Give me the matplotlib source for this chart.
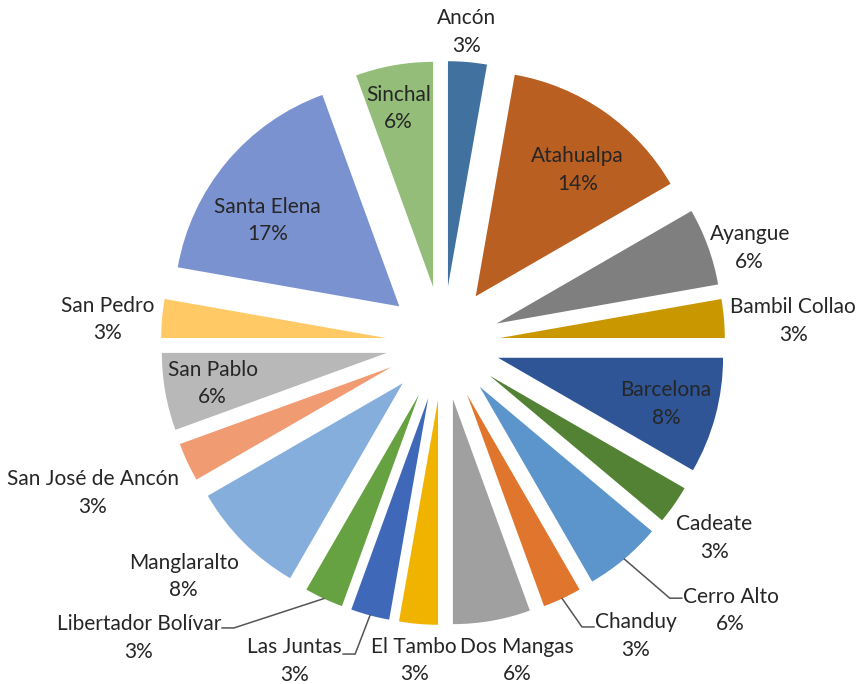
import numpy as np
import matplotlib
matplotlib.use("Agg")
import matplotlib.pyplot as plt

plt.rcParams['font.family'] = ['Lato', 'DejaVu Sans']

# data: counts per parish, shown as rounded percentages
parishes = ["Ancón", "Atahualpa", "Ayangue", "Bambil Collao", "Barcelona", "Cadeate",
            "Cerro Alto", "Chanduy", "Dos Mangas", "El Tambo", "Las Juntas",
            "Libertador Bolívar", "Manglaralto", "San José de Ancón", "San Pablo",
            "San Pedro", "Santa Elena", "Sinchal"]
counts = [1, 5, 2, 1, 3, 1, 2, 1, 2, 1, 1, 1, 3, 1, 2, 1, 6, 2]

colors = ["#41729F", "#BA5F22", "#7F7F7F", "#C99700", "#2F5597", "#548235",
          "#5B95CC", "#E0762E", "#A0A0A0", "#F0B400", "#3F69B8", "#67A242",
          "#85AEDC", "#F09B72", "#B8B8B8", "#FFC966", "#7B92D0", "#93BD79"]

# label placement: (angle in degrees, distance in px from pie centre)
label_pos = {
    "Ancón": (85.6, 312), "Atahualpa": (52.2, 219), "Ayangue": (17.2, 321),
    "Bambil Collao": (3.6, 351), "Barcelona": (-15.3, 231), "Cadeate": (-35.7, 334),
    "Dos Mangas": (-76.9, 326), "El Tambo": (-95.2, 319), "Manglaralto": (-138, 349),
    "San José de Ancón": (-156.8, 381), "San Pablo": (-170, 234), "San Pedro": (176, 336),
    "Santa Elena": (145, 214), "Sinchal": (100.8, 239),
}
# labels with leader lines: anchor at text edge (angle, distance), side, drop of text block
leader_pos = {
    "Cerro Alto": (-46.9, 349.5, "left", 12), "Chanduy": (-62.0, 321.6, "left", 9),
    "Las Juntas": (-107.8, 326.7, "right", 7), "Libertador Bolívar": (-127.8, 360.6, "right", 10),
}

W, H = 859, 684
cx, cy = 443, 341
radius = 225
offset = 57
text_color = "#262626"

fig = plt.figure(figsize=(W / 100, H / 100), dpi=100)
ax = fig.add_axes([0, 0, 1, 1])

total = sum(counts)
# matplotlib's explode is in data units here, so pass the pixel offset directly
wedges, _ = ax.pie(counts, colors=colors, startangle=90, counterclock=False,
                   radius=radius, center=(cx, cy),
                   explode=[offset] * len(counts),
                   wedgeprops=dict(linewidth=0))
ax.set_xlim(0, W)
ax.set_ylim(0, H)
ax.set_aspect("equal")
ax.axis("off")


def polar(angle, dist):
    a = np.radians(angle)
    return cx + dist * np.cos(a), cy + dist * np.sin(a)


for w, name, c in zip(wedges, parishes, counts):
    pct = f"{round(100 * c / total)}%"
    mid = (w.theta1 + w.theta2) / 2
    if name in label_pos:
        ang, dist = label_pos[name]
        x, y = polar(ang, dist)
        ax.text(x, y, f"{name}\n{pct}", ha="center", va="center", fontsize=15,
                color=text_color, linespacing=1.45)
    else:
        ang, dist, side, drop = leader_pos[name]
        x, y = polar(ang, dist)
        sx, sy = polar(mid, radius + offset)
        ex = x - 12 if side == "left" else x + 12
        ax.plot([sx, ex, x], [sy, y, y], color="#555555", lw=1.1)
        tx = x + 1 if side == "left" else x - 1
        ax.text(tx, y - drop, f"{name}\n{pct}", ha=side, va="center", fontsize=15,
                color=text_color, linespacing=1.45, multialignment="center")

fig.savefig("out.png", dpi=100)
